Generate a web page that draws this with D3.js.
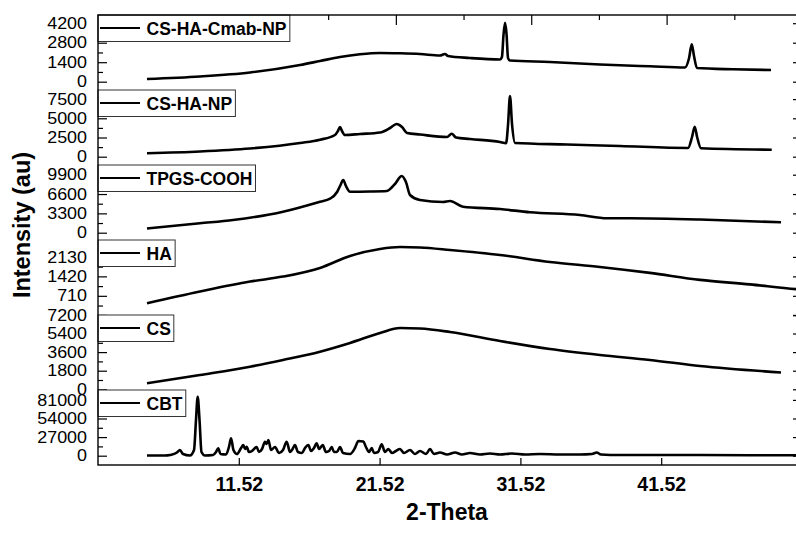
<!DOCTYPE html>
<html>
<head>
<meta charset="utf-8">
<script src="https://cdn.jsdelivr.net/npm/d3@7/dist/d3.min.js"></script>
<style>
  html, body { margin: 0; padding: 0; background: #fff; }
  svg { display: block; }
  text { font-family: "Liberation Sans", Arial, Helvetica, sans-serif; fill: #000; }
</style>
</head>
<body>
<svg id="chart" width="796" height="537"></svg>
<script>
// ---------------- DATA ----------------
const panelNames = ["CS-HA-Cmab-NP", "CS-HA-NP", "TPGS-COOH", "HA", "CS", "CBT"];

const yDomains = [
  [-596, 4789],
  [-1081, 8684],
  [-1246, 11556],
  [10, 2748],
  [-68, 7192],
  [-13500, 95370]
];
const yMajorTicks = [
  [0, 1400, 2800, 4200],
  [0, 2500, 5000, 7500],
  [0, 3300, 6600, 9900],
  [0, 710, 1420, 2130],
  [0, 1800, 3600, 5400, 7200],
  [0, 27000, 54000, 81000]
];
const yLabelTicks = [
  [0, 1400, 2800, 4200],
  [0, 2500, 5000, 7500],
  [0, 3300, 6600, 9900],
  [710, 1420, 2130],
  [0, 1800, 3600, 5400, 7200],
  [0, 27000, 54000, 81000]
];
const yMinorTicks = [
  [700, 2100, 3500],
  [1250, 3750, 6250],
  [1650, 4950, 8250],
  [355, 1065, 1775, 2485],
  [900, 2700, 4500, 6300],
  [13500, 40500, 67500]
];

const xDomain = [1.52, 51.52];
const xTickValues = [11.52, 21.52, 31.52, 41.52];
const topDomain = [-2, 50];
const topMajorTicks = [0, 10, 20, 30, 40, 50];
const topMinorTicks = [5, 15, 25, 35, 45];

// CS-HA-Cmab-NP
const cmabTheta = [5.00, 8.76, 12.32, 15.87, 17.29, 18.71, 20.13, 21.55, 22.97, 24.39, 25.81, 26.16, 26.38, 27.94, 30.07, 30.21, 30.32, 30.43, 30.53, 30.64, 30.78, 33.62, 37.17, 40.72, 43.21, 43.50, 43.69, 43.85, 44.06, 46.62, 49.32];
const cmabInt   = [194, 373, 660, 1199, 1486, 1773, 1967, 2061, 2039, 1989, 1881, 1989, 1845, 1702, 1594, 1773, 3353, 4236, 3497, 1702, 1522, 1414, 1235, 1106, 1020, 1702, 2685, 1845, 984, 890, 840];

// CS-HA-NP
const npTheta = [5.00, 8.76, 12.32, 15.87, 17.29, 18.35, 18.56, 18.71, 18.85, 19.06, 20.13, 21.55, 22.26, 22.73, 23.11, 23.47, 24.39, 26.31, 26.64, 26.95, 27.94, 30.07, 30.50, 30.64, 30.78, 30.93, 31.14, 34.83, 38.59, 43.43, 43.71, 43.90, 44.07, 44.35, 49.37];
const npInt   = [443, 677, 1068, 1784, 2213, 2825, 3346, 3867, 3346, 2825, 2955, 3151, 3737, 4258, 3867, 3086, 2890, 2565, 2995, 2500, 2304, 1914, 1745, 4127, 7903, 4127, 1784, 1588, 1393, 1133, 2565, 3906, 2565, 1094, 911];

// TPGS-COOH
const tpgsTheta = [5.00, 8.76, 11.11, 14.66, 17.29, 18.00, 18.50, 18.71, 18.94, 19.13, 19.42, 20.84, 22.04, 22.61, 23.09, 23.39, 23.68, 24.39, 26.02, 26.52, 27.44, 30.07, 32.20, 35.75, 37.67, 39.30, 44.28, 50.03];
const tpgsInt   = [717, 1605, 2168, 3585, 5292, 5804, 6947, 7972, 8996, 7972, 6999, 7033, 7118, 8313, 9679, 8655, 6435, 5582, 5240, 5411, 4438, 4046, 3482, 3021, 2458, 2458, 2253, 1775];

// HA
const haTheta = [5.00, 8.76, 12.32, 14.66, 17.29, 19.42, 21.55, 22.97, 24.39, 26.52, 30.07, 33.62, 37.17, 40.72, 44.27, 47.82, 51.09, 51.52];
const haInt   = [437, 866, 1230, 1412, 1729, 2166, 2421, 2493, 2475, 2384, 2202, 1947, 1765, 1547, 1292, 1128, 954, 940];

// CS
const csTheta = [5.00, 8.76, 12.32, 14.66, 17.29, 19.42, 21.55, 22.97, 24.39, 26.52, 30.07, 33.62, 37.17, 40.72, 44.27, 50.03];
const csInt   = [581, 1384, 2188, 2836, 3640, 4482, 5450, 5934, 5885, 5547, 4675, 3901, 3320, 2836, 2255, 1626];

// CBT
const cbtTheta = [5.00, 6.28, 6.63, 7.13, 7.34, 7.56, 8.05, 8.34, 8.48, 8.60, 8.73, 8.87, 9.12, 9.69, 9.90, 10.06, 10.22, 10.61, 10.82, 10.97, 11.14, 11.39, 11.68, 11.84, 11.96, 12.08, 12.24, 12.46, 12.60, 12.79, 12.95, 13.17, 13.38, 13.50, 13.62, 13.81, 14.09, 14.38, 14.66, 14.92, 15.16, 15.30, 15.51, 15.72, 16.01, 16.22, 16.46, 16.65, 16.86, 17.05, 17.22, 17.48, 17.71, 17.93, 18.12, 18.28, 18.49, 18.71, 18.92, 19.42, 19.77, 20.01, 20.36, 20.55, 20.77, 20.96, 21.12, 21.41, 21.67, 21.90, 22.14, 22.40, 22.68, 22.97, 23.25, 23.68, 24.03, 24.39, 24.82, 25.10, 25.38, 25.81, 26.31, 26.88, 27.37, 27.94, 28.65, 29.36, 30.07, 30.92, 31.85, 32.91, 34.33, 35.75, 36.61, 36.94, 37.24, 38.59, 40.73, 44.28, 47.83, 51.52];
const cbtInt   = [290, 290, 1016, 4645, 8274, 2468, 290, 8274, 51822, 85644, 51822, 5371, 290, 1016, 5371, 10742, 2468, 1742, 12629, 25258, 8274, 2468, 11177, 15532, 9726, 13064, 5371, 6823, 9726, 12629, 5371, 9726, 20322, 16984, 22790, 8274, 12629, 3919, 8274, 20322, 5371, 8274, 15532, 5371, 3919, 11177, 15532, 6823, 11177, 18000, 9726, 15532, 5371, 6823, 12629, 5371, 5371, 12629, 3919, 2468, 11177, 21338, 20613, 12629, 5371, 11177, 3919, 5371, 16548, 5371, 9726, 3919, 6823, 9726, 3919, 8274, 2468, 6823, 2468, 9726, 2468, 4645, 1742, 4645, 1742, 3919, 1742, 3194, 1742, 3194, 1742, 2468, 1742, 1742, 2468, 4645, 1742, 1016, 1016, 1016, 726, 581];

const seriesTheta = [cmabTheta, npTheta, tpgsTheta, haTheta, csTheta, cbtTheta];
const seriesInt = [cmabInt, npInt, tpgsInt, haInt, csInt, cbtInt];

const xTitle = "2-Theta";
const yTitle = "Intensity (au)";

// ---------------- LAYOUT ----------------
const svg = d3.select("#chart");
const L = 98, R = 802, T = 15, B = 465;
const nPanels = panelNames.length;
const panelH = (B - T) / nPanels;

const x = d3.scaleLinear().domain(xDomain).range([L, R]);
const xTop = d3.scaleLinear().domain(topDomain).range([L, R]);

svg.append("rect").attr("width", 796).attr("height", 537).attr("fill", "#fff");

const axisG = svg.append("g");
const curveG = svg.append("g");
const legendG = svg.append("g");

const labelScaleX = 1.12;

panelNames.forEach((name, i) => {
  const top = T + i * panelH, bot = top + panelH;
  const y = d3.scaleLinear().domain(yDomains[i]).range([bot, top]);

  axisG.append("g")
    .attr("transform", `translate(${L},0)`)
    .call(d3.axisLeft(y).tickValues(yMinorTicks[i].filter(v => v <= yDomains[i][1])).tickSize(-5).tickFormat(""))
    .call(g => g.select(".domain").remove());
  axisG.append("g")
    .attr("transform", `translate(${L},0)`)
    .call(d3.axisLeft(y).tickValues(yMajorTicks[i]).tickSize(-9).tickFormat(""))
    .call(g => g.select(".domain").remove());
  axisG.append("g")
    .attr("transform", `translate(${L},0)`)
    .call(d3.axisLeft(y).tickValues(yLabelTicks[i]).tickSize(0).tickPadding(11 / labelScaleX).tickFormat(d3.format("d")))
    .call(g => g.select(".domain").remove())
    .call(g => g.selectAll("line").remove())
    .call(g => g.selectAll("text")
      .attr("font-size", 16)
      .attr("font-family", "'Liberation Sans', Arial, sans-serif")
      .attr("fill", "#000")
      .attr("transform", `scale(${labelScaleX},1)`));
  axisG.append("g")
    .attr("transform", `translate(${R},0)`)
    .call(d3.axisRight(y).tickValues(yMajorTicks[i]).tickSize(-9).tickFormat(""))
    .call(g => g.select(".domain").remove());

  const pts = seriesTheta[i].map((t, k) => [t, seriesInt[i][k]]);
  curveG.append("path")
    .datum(pts)
    .attr("fill", "none")
    .attr("stroke", "#000")
    .attr("stroke-width", 2.6)
    .attr("stroke-linejoin", "round")
    .attr("d", d3.line().x(d => x(d[0])).y(d => y(d[1])).curve(d3.curveMonotoneX));

  const lg = legendG.append("g");
  const rect = lg.append("rect")
    .attr("x", L).attr("y", top)
    .attr("height", 26.5)
    .attr("fill", "#fff")
    .attr("stroke", "#333")
    .attr("stroke-width", 1);
  lg.append("line")
    .attr("x1", L + 2).attr("x2", L + 42)
    .attr("y1", top + 13).attr("y2", top + 13)
    .attr("stroke", "#000").attr("stroke-width", 2);
  const txt = lg.append("text")
    .attr("x", L + 48.5).attr("y", top + 20)
    .attr("font-size", 17.5)
    .attr("font-weight", "bold")
    .text(name);
  const bb = txt.node().getBBox();
  rect.attr("width", bb.x + bb.width + 3 - L);
});

axisG.append("g")
  .attr("transform", `translate(0,${T})`)
  .call(d3.axisTop(xTop).tickValues(topMajorTicks).tickSize(-10).tickFormat(""))
  .call(g => g.select(".domain").remove());
axisG.append("g")
  .attr("transform", `translate(0,${T})`)
  .call(d3.axisTop(xTop).tickValues(topMinorTicks).tickSize(-5).tickFormat(""))
  .call(g => g.select(".domain").remove());

axisG.append("g")
  .attr("transform", `translate(0,${B})`)
  .call(d3.axisBottom(x).tickValues(xTickValues).tickSize(-7).tickPadding(12).tickFormat(d3.format(".2f")))
  .call(g => g.select(".domain").remove())
  .call(g => g.selectAll("text")
    .attr("font-size", 19.5)
    .attr("font-weight", "bold")
    .attr("font-family", "'Liberation Sans', Arial, sans-serif")
    .attr("fill", "#000"));

axisG.selectAll(".tick line").attr("stroke", "#000").attr("stroke-width", 1.2);

svg.append("rect")
  .attr("x", L).attr("y", T)
  .attr("width", R - L).attr("height", B - T)
  .attr("fill", "none")
  .attr("stroke", "#000")
  .attr("stroke-width", 1.4);

svg.append("text")
  .attr("x", 447).attr("y", 520)
  .attr("text-anchor", "middle")
  .attr("font-size", 23)
  .attr("font-weight", "bold")
  .text(xTitle);

svg.append("text")
  .attr("transform", `translate(30,225) rotate(-90)`)
  .attr("text-anchor", "middle")
  .attr("font-size", 23.5)
  .attr("font-weight", "bold")
  .text(yTitle);
</script>
</body>
</html>
